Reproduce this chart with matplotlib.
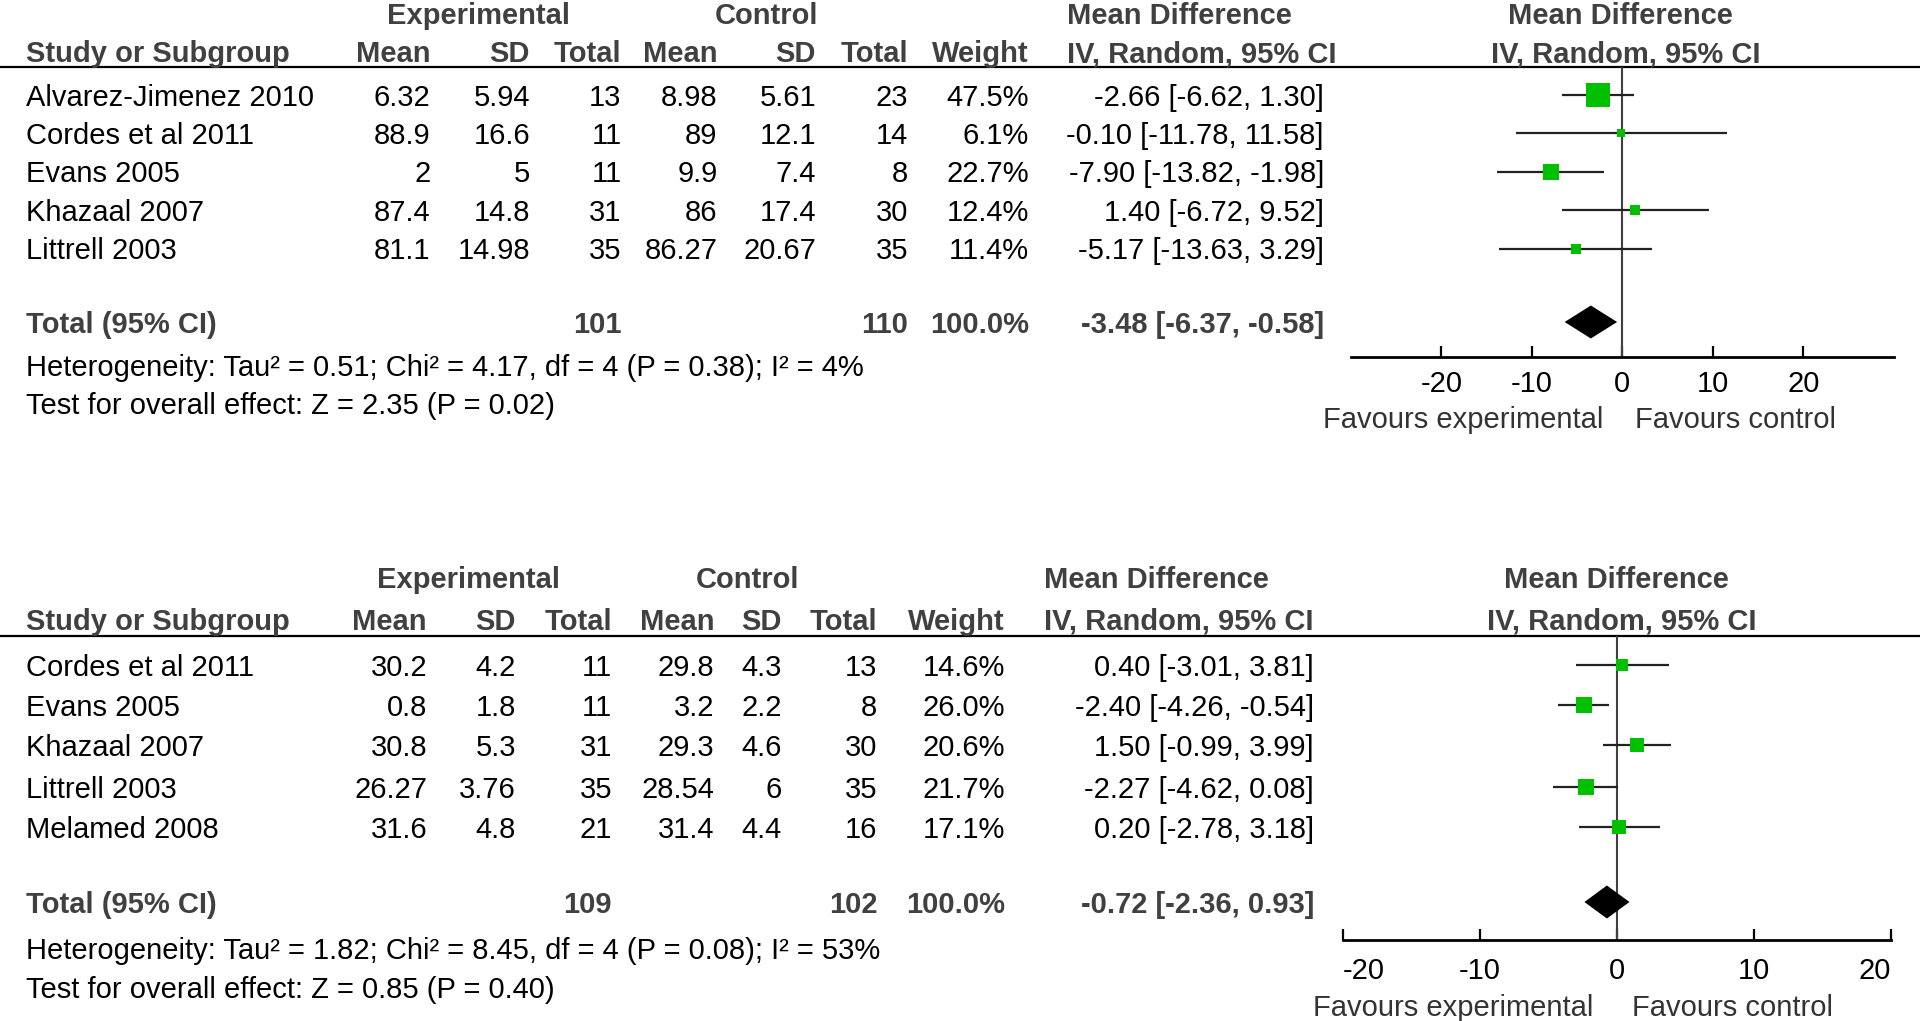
import numpy as np
import matplotlib.pyplot as plt

plt.rcParams['figure.dpi'] = 100
plt.rcParams['font.family'] = ['Liberation Sans', 'DejaVu Sans']

# ---------------- data: panel 1 ----------------
top_studies = ['Alvarez-Jimenez 2010', 'Cordes et al 2011', 'Evans 2005', 'Khazaal 2007', 'Littrell 2003']
top_exp_mean = [6.32, 88.9, 2, 87.4, 81.1]
top_exp_sd = [5.94, 16.6, 5, 14.8, 14.98]
top_exp_n = [13, 11, 11, 31, 35]
top_ctl_mean = [8.98, 89, 9.9, 86, 86.27]
top_ctl_sd = [5.61, 12.1, 7.4, 17.4, 20.67]
top_ctl_n = [23, 14, 8, 30, 35]
top_weight = [47.5, 6.1, 22.7, 12.4, 11.4]
top_md = [-2.66, -0.10, -7.90, 1.40, -5.17]
top_lo = [-6.62, -11.78, -13.82, -6.72, -13.63]
top_hi = [1.30, 11.58, -1.98, 9.52, 3.29]
top_total_n = [101, 110]
top_total_md = [-3.48, -6.37, -0.58]
top_het = 'Heterogeneity: Tau² = 0.51; Chi² = 4.17, df = 4 (P = 0.38); I² = 4%'
top_test = 'Test for overall effect: Z = 2.35 (P = 0.02)'
top_ticks = [-20, -10, 0, 10, 20]

# ---------------- data: panel 2 ----------------
bot_studies = ['Cordes et al 2011', 'Evans 2005', 'Khazaal 2007', 'Littrell 2003', 'Melamed 2008']
bot_exp_mean = [30.2, 0.8, 30.8, 26.27, 31.6]
bot_exp_sd = [4.2, 1.8, 5.3, 3.76, 4.8]
bot_exp_n = [11, 11, 31, 35, 21]
bot_ctl_mean = [29.8, 3.2, 29.3, 28.54, 31.4]
bot_ctl_sd = [4.3, 2.2, 4.6, 6, 4.4]
bot_ctl_n = [13, 8, 30, 35, 16]
bot_weight = [14.6, 26.0, 20.6, 21.7, 17.1]
bot_md = [0.40, -2.40, 1.50, -2.27, 0.20]
bot_lo = [-3.01, -4.26, -0.99, -4.62, -2.78]
bot_hi = [3.81, -0.54, 3.99, 0.08, 3.18]
bot_total_n = [109, 102]
bot_total_md = [-0.72, -2.36, 0.93]
bot_het = 'Heterogeneity: Tau² = 1.82; Chi² = 8.45, df = 4 (P = 0.08); I² = 53%'
bot_test = 'Test for overall effect: Z = 0.85 (P = 0.40)'
bot_ticks = [-20, -10, 0, 10, 20]

W, H = 1920, 1021
FS = 21
HEAD = '#404040'
GREEN = '#00c000'

fig = plt.figure(figsize=(W / 100, H / 100))
bg = fig.add_axes([0, 0, 1, 1])
bg.set_xlim(0, W)
bg.set_ylim(H, 0)
bg.axis('off')


def txt(x, y, s, ha='right', bold=False, color='black'):
    # y = visual centre of the cap height, in pixels
    bg.text(x, y + 10.5, s, ha=ha, va='baseline', fontsize=FS,
            fontweight='bold' if bold else 'normal', color=color)


def panel(lay, studies, em, esd, en, cm, csd, cn, wt, md, lo, hi, tot_n, tot_md, het, test, xlim, ticks):
    # ---- headers ----
    txt(lay['exp_c'], lay['grp_y'], 'Experimental', ha='center', bold=True, color=HEAD)
    txt(lay['ctl_c'], lay['grp_y'], 'Control', ha='center', bold=True, color=HEAD)
    txt(lay['md_l'], lay['grp_y'], 'Mean Difference', ha='left', bold=True, color=HEAD)
    txt(lay['plot_c'], lay['grp_y'], 'Mean Difference', ha='center', bold=True, color=HEAD)
    hy = lay['head_y']
    txt(lay['study_x'], hy, 'Study or Subgroup', ha='left', bold=True, color=HEAD)
    cols = lay['cols']
    for c, name in zip(cols, ['Mean', 'SD', 'Total', 'Mean', 'SD', 'Total', 'Weight']):
        txt(c, hy, name, bold=True, color=HEAD)
    txt(lay['md_l'], hy, 'IV, Random, 95% CI', ha='left', bold=True, color=HEAD)
    txt(lay['plot_c'] + 6, hy, 'IV, Random, 95% CI', ha='center', bold=True, color=HEAD)
    bg.axhline(lay['line_y'], color='black', lw=1.6)

    # ---- study rows ----
    for i, s in enumerate(studies):
        y = lay['rows'][i]
        txt(lay['study_x'], y, s, ha='left')
        vals = [f'{em[i]:g}', f'{esd[i]:g}', f'{en[i]}', f'{cm[i]:g}', f'{csd[i]:g}', f'{cn[i]}', f'{wt[i]:.1f}%']
        for c, v in zip(cols, vals):
            txt(c, y, v)
        txt(lay['md_r'], y, f'{md[i]:.2f} [{lo[i]:.2f}, {hi[i]:.2f}]')

    # ---- total row ----
    ty = lay['total_y']
    txt(lay['study_x'], ty, 'Total (95% CI)', ha='left', bold=True, color=HEAD)
    txt(cols[2], ty, str(tot_n[0]), bold=True, color=HEAD)
    txt(cols[5], ty, str(tot_n[1]), bold=True, color=HEAD)
    txt(cols[6], ty, '100.0%', bold=True, color=HEAD)
    txt(lay['md_r'], ty, f'{tot_md[0]:.2f} [{tot_md[1]:.2f}, {tot_md[2]:.2f}]', bold=True, color=HEAD)
    txt(lay['study_x'], lay['het_y'], het, ha='left')
    txt(lay['study_x'], lay['test_y'], test, ha='left')

    # ---- forest plot ----
    x0, x1 = lay['px']
    y0, y1 = lay['line_y'], lay['axis_y']
    ax = fig.add_axes([x0 / W, 1 - y1 / H, (x1 - x0) / W, (y1 - y0) / H])
    ax.set_xlim(*xlim)
    ax.set_ylim(y1, y0)
    ax.patch.set_alpha(0)
    for sp in ['top', 'left', 'right']:
        ax.spines[sp].set_visible(False)
    ax.spines['bottom'].set_linewidth(2.0)
    ax.set_yticks([])
    ax.set_xticks(ticks)
    ax.set_xticklabels([str(t) for t in ticks])
    ax.tick_params(axis='x', direction='in', length=8, width=1.6, labelsize=FS, pad=lay['pad'])
    # labels sitting on the ends of the axis are pulled inwards
    for t, lab in zip(ticks, ax.get_xticklabels()):
        if t == xlim[0]:
            lab.set_horizontalalignment('left')
        elif t == xlim[1]:
            lab.set_horizontalalignment('right')
    ax.axvline(0, color='#404040', lw=1.5)

    for i in range(len(studies)):
        y = lay['rows'][i]
        ax.plot([lo[i], hi[i]], [y, y], color='#222222', lw=1.6, solid_capstyle='butt')
        size = 2.37 * wt[i] ** 0.6 * 0.72
        ax.plot(md[i], y, marker='s', ms=size, color=GREEN, mec=GREEN, mew=0, zorder=3)

    # summary diamond
    m, l, h = tot_md
    d = 16.5
    ax.fill([l, m, h, m], [ty, ty - d, ty, ty + d], color='black', lw=0, zorder=3)

    zero_px = x0 + (0 - xlim[0]) / (xlim[1] - xlim[0]) * (x1 - x0)
    fy = lay['fav_y']
    bg.text(zero_px - lay['fav_gap'][0], fy + 10.5, 'Favours experimental', ha='right', va='baseline',
            fontsize=FS, color='#333333')
    bg.text(zero_px + lay['fav_gap'][1], fy + 10.5, 'Favours control', ha='left', va='baseline',
            fontsize=FS, color='#333333')


top_layout = dict(grp_y=13, head_y=52, line_y=67, rows=[95, 133.5, 172, 210, 248.5], total_y=322,
                  het_y=365, test_y=403, study_x=26,
                  cols=[430.5, 530, 621.5, 717.5, 816, 908, 1029],
                  exp_c=478.6, ctl_c=767, md_l=1067, md_r=1324, plot_c=1620,
                  px=(1350.7, 1894), axis_y=357, fav_y=417, fav_gap=(19, 13), pad=9)
bot_layout = dict(grp_y=577, head_y=619, line_y=636, rows=[665, 705, 745, 787, 827], total_y=902,
                  het_y=948, test_y=987, study_x=26,
                  cols=[427, 516, 612, 714.5, 782, 877.5, 1005],
                  exp_c=468.5, ctl_c=747.7, md_l=1044.5, md_r=1314, plot_c=1616,
                  px=(1342.7, 1890.8), axis_y=940, fav_y=1005, fav_gap=(23, 15), pad=12)

panel(top_layout, top_studies, top_exp_mean, top_exp_sd, top_exp_n, top_ctl_mean, top_ctl_sd, top_ctl_n,
      top_weight, top_md, top_lo, top_hi, top_total_n, top_total_md, top_het, top_test, (-30, 30), top_ticks)
panel(bot_layout, bot_studies, bot_exp_mean, bot_exp_sd, bot_exp_n, bot_ctl_mean, bot_ctl_sd, bot_ctl_n,
      bot_weight, bot_md, bot_lo, bot_hi, bot_total_n, bot_total_md, bot_het, bot_test, (-20, 20), bot_ticks)

fig.savefig('out.png', dpi=100)
